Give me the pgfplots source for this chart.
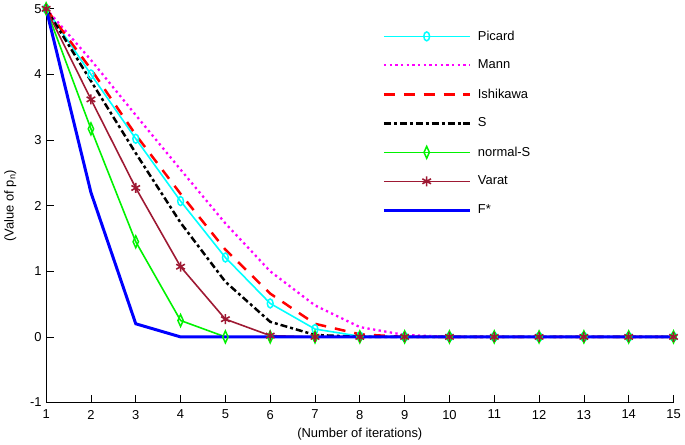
\documentclass[border=0pt]{standalone}
\usepackage{fontspec}
\setmainfont{Liberation Sans}
\usepackage{pgfplots}
\pgfplotsset{compat=1.18}
\definecolor{varat}{rgb}{0.62,0.10,0.20}
\definecolor{ngreen}{rgb}{0.0,0.95,0.0}
\definecolor{mcyan}{rgb}{0,1,1}
\definecolor{mmag}{rgb}{1,0,1}
\definecolor{mred}{rgb}{1,0,0}
\definecolor{mblue}{rgb}{0,0,1}
\begin{document}
\fontsize{13}{15}\selectfont
\begin{tikzpicture}[font=\fontsize{13}{15}\selectfont]
\begin{axis}[
 scale only axis, width=631pt, height=396pt,
 xmin=1, xmax=15, ymin=-1, ymax=5,
 xtick={1,...,15}, ytick={-1,0,...,5},
 axis x line*=bottom, axis y line*=left,
 axis line style={black, line width=0.7pt, -},
 tick align=inside, major tick length=8pt,
 tick style={black, line width=0.7pt},
 every tick label/.append style={font=\fontsize{13}{15}\selectfont},
 label style={font=\fontsize{13}{15}\selectfont},
 /pgf/number format/assume math mode=true,
 xticklabel style={yshift=-3pt},
 xlabel={(Number of iterations)},
 ylabel={(Value of p\textsubscript{n})},
 xlabel style={yshift=0pt},
 ylabel style={yshift=5pt},
 clip=false,
 legend cell align=left,
 legend style={draw=none, fill=none, at={(0.531,0.955)}, anchor=north west,
   font=\fontsize{13}{15}\selectfont, row sep=14pt,
   /tikz/every odd column/.append style={column sep=4pt}},
 legend image code/.code={\draw[mark repeat=2,mark phase=2] plot coordinates {(0pt,0pt) (43pt,0pt) (87pt,0pt)};},
]
\addplot[mcyan, line width=1.6pt, mark=o, mark size=4.5pt, mark options={solid, xscale=0.65, line width=1.5pt}]
 coordinates {(1,5)(2,4.0)(3,3.02)(4,2.07)(5,1.21)(6,0.51)(7,0.12)(8,0.01)(9,0)(10,0)(11,0)(12,0)(13,0)(14,0)(15,0)};
\addlegendentry{Picard}
\addplot[mmag, line width=2.3pt, dash pattern=on 2.3pt off 3.4pt]
 coordinates {(1,5)(2,4.22)(3,3.38)(4,2.55)(5,1.73)(6,1.0)(7,0.48)(8,0.15)(9,0.03)(10,0)(11,0)(12,0)(13,0)(14,0)(15,0)};
\addlegendentry{Mann}
\addplot[mred, line width=2.5pt, dash pattern=on 11pt off 9pt]
 coordinates {(1,5)(2,4.08)(3,3.08)(4,2.18)(5,1.33)(6,0.66)(7,0.2)(8,0.04)(9,0)(10,0)(11,0)(12,0)(13,0)(14,0)(15,0)};
\addlegendentry{Ishikawa}
\addplot[black, line width=2.5pt, dash pattern=on 7pt off 3pt on 3pt off 3pt]
 coordinates {(1,5)(2,3.9)(3,2.8)(4,1.74)(5,0.84)(6,0.23)(7,0.03)(8,0)(9,0)(10,0)(11,0)(12,0)(13,0)(14,0)(15,0)};
\addlegendentry{S}
\addplot[ngreen, line width=1.6pt, mark=diamond, mark size=6pt, mark options={solid, xscale=0.6, line width=1.5pt}]
 coordinates {(1,5)(2,3.17)(3,1.45)(4,0.25)(5,0)(6,0)(7,0)(8,0)(9,0)(10,0)(11,0)(12,0)(13,0)(14,0)(15,0)};
\addlegendentry{normal-S}
\addplot[varat, line width=1.6pt, mark=asterisk, mark size=5pt, mark options={solid, line width=1.6pt}]
 coordinates {(1,5)(2,3.62)(3,2.27)(4,1.07)(5,0.27)(6,0.02)(7,0)(8,0)(9,0)(10,0)(11,0)(12,0)(13,0)(14,0)(15,0)};
\addlegendentry{Varat}
\addplot[mblue, line width=3pt]
 coordinates {(1,5)(2,2.2)(3,0.2)(4,0)(5,0)(6,0)(7,0)(8,0)(9,0)(10,0)(11,0)(12,0)(13,0)(14,0)(15,0)};
\addlegendentry{F*}
\end{axis}
\end{tikzpicture}
\end{document}
